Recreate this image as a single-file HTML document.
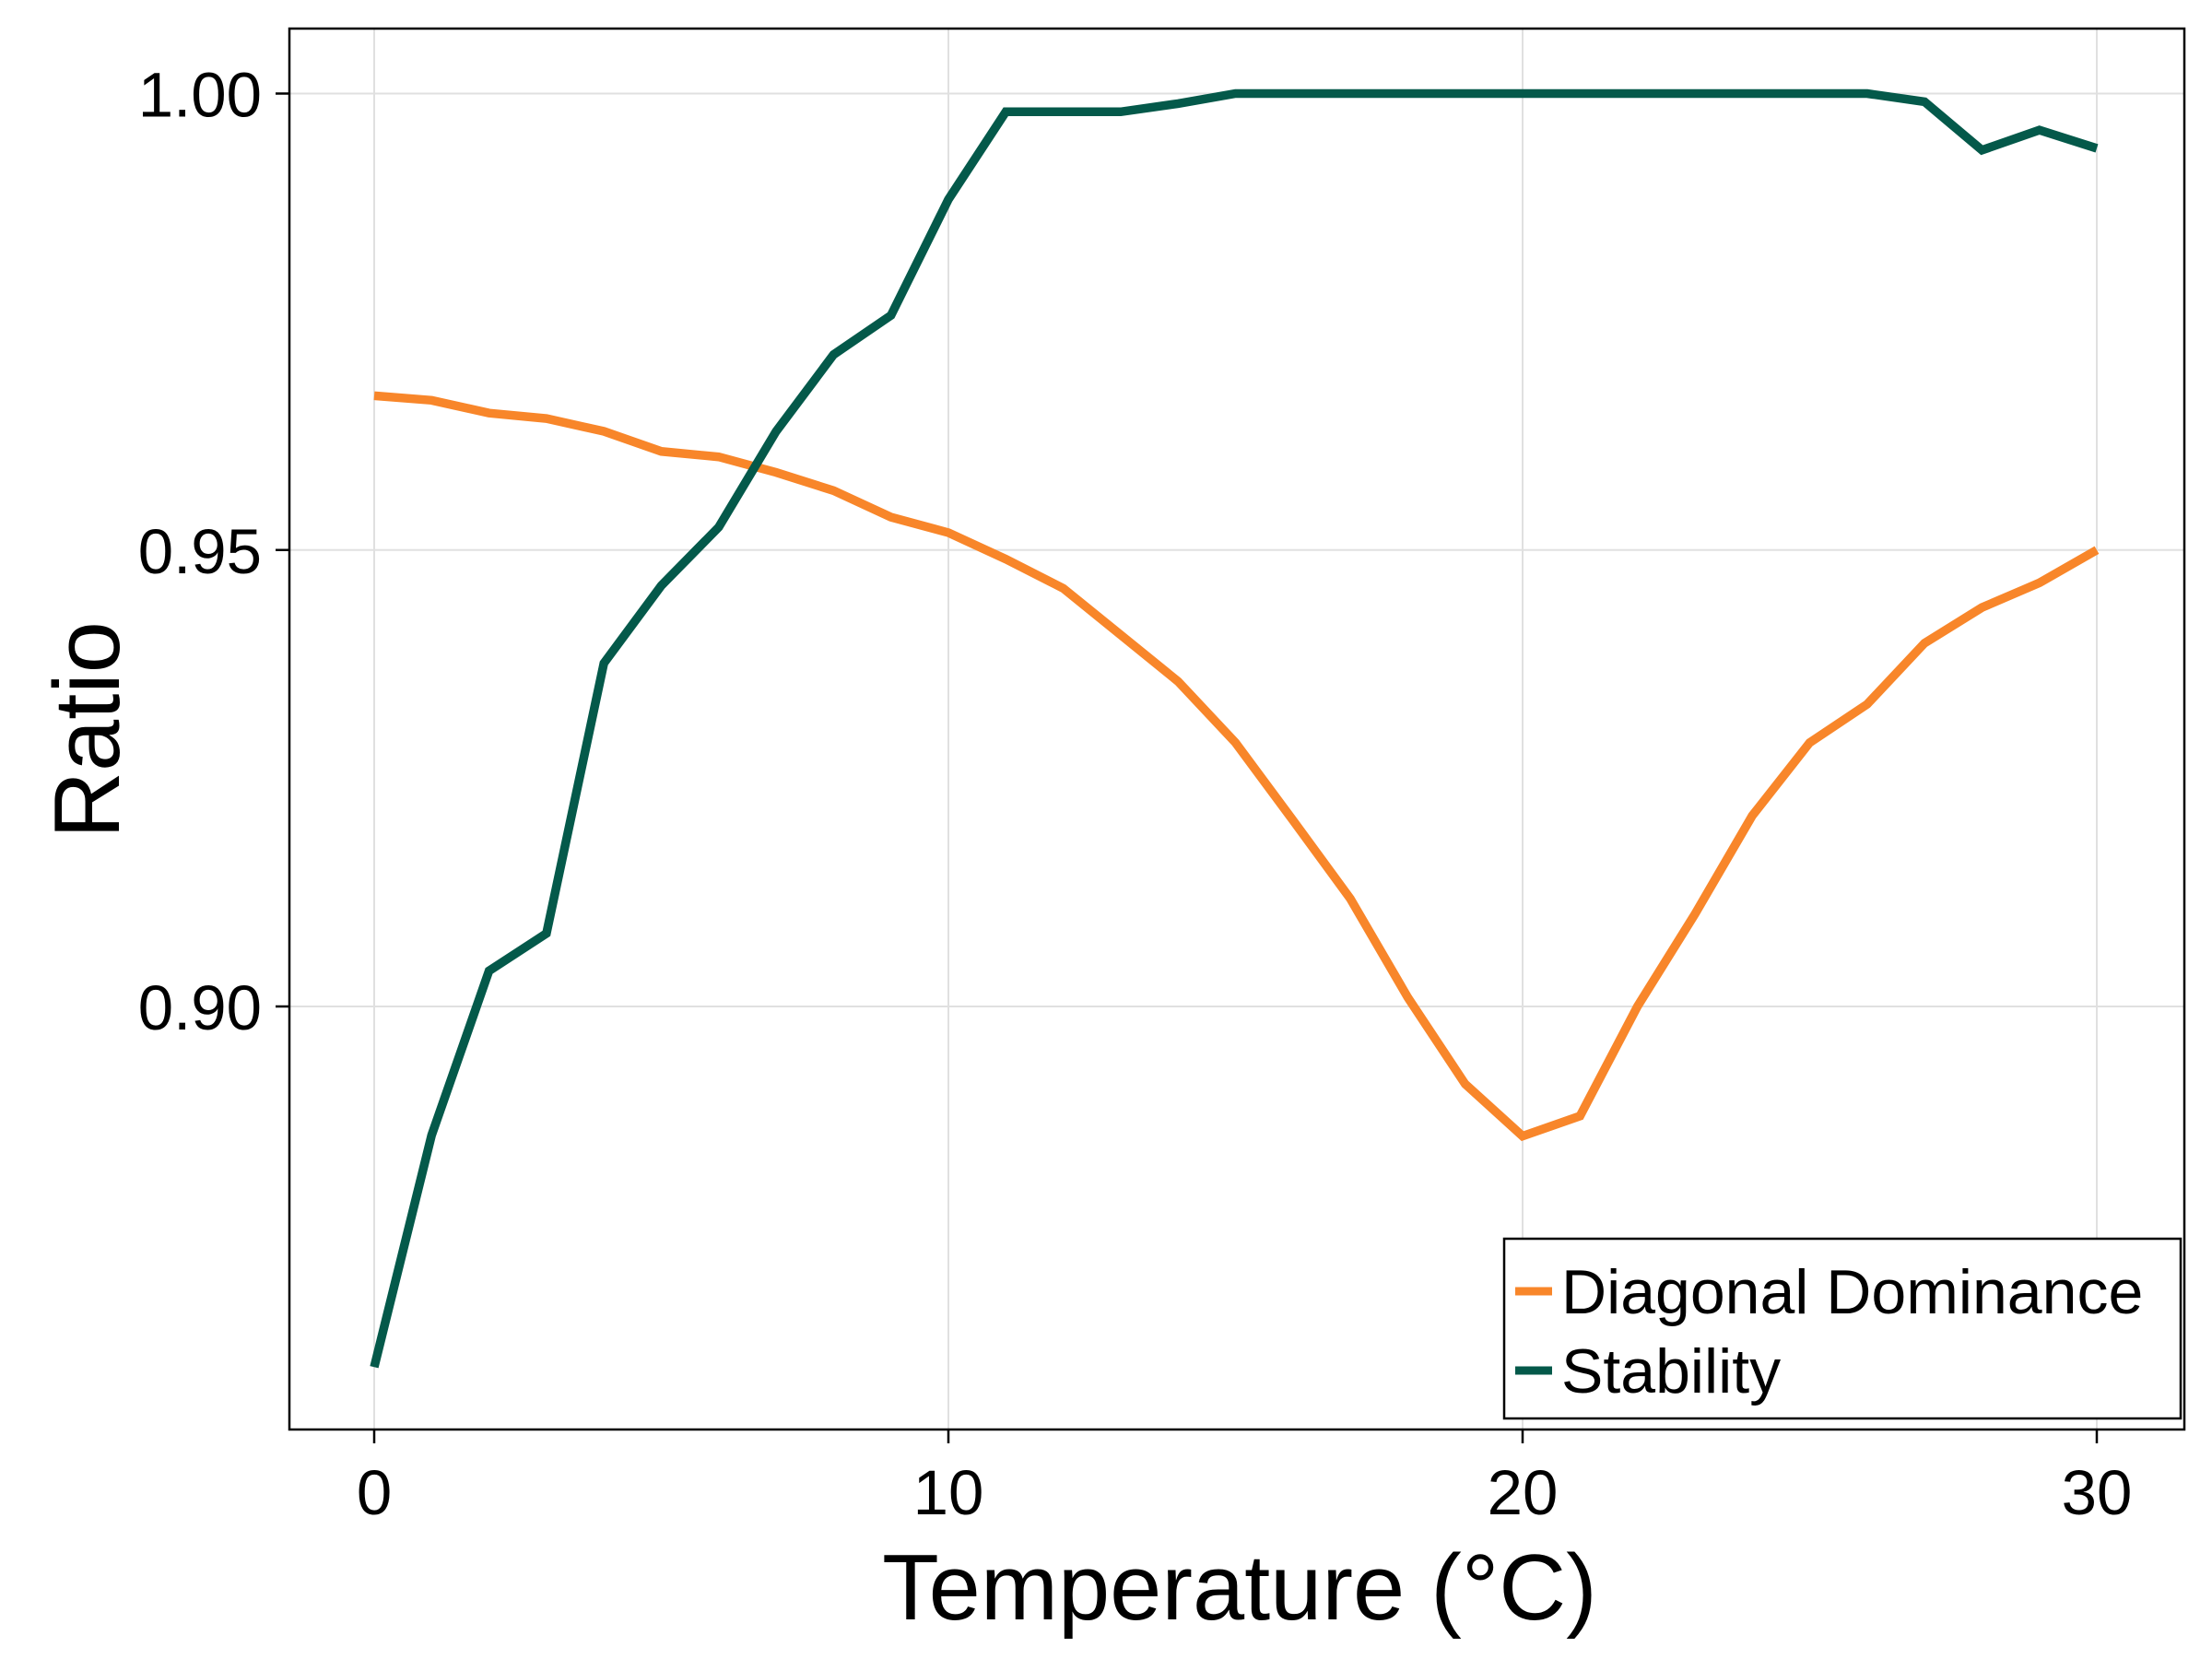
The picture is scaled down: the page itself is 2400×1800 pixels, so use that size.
<!DOCTYPE html>
<html><head><meta charset="utf-8"><style>
html,body{margin:0;padding:0;background:#fff}
svg{display:block;font-family:"Liberation Sans",sans-serif}
</style></head><body>
<svg id="chart" width="2400" height="1800" viewBox="0 0 2400 1800">
<rect x="0" y="0" width="2400" height="1800" fill="#fff"/>
<g id="grid"></g>
<g id="series"></g>
<rect x="314" y="31" width="2056" height="1520" fill="none" stroke="#000" stroke-width="2.5"/>
<g id="ticks"></g>
<text x="1345" y="1757" font-size="101" text-anchor="middle">Temperature (°C)</text>
<text transform="translate(129,792) rotate(-90)" font-size="101" text-anchor="middle">Ratio</text>
<g>
<rect x="1632" y="1344" width="734" height="195" fill="#fff" stroke="#000" stroke-width="2.5"/>
<line x1="1644" y1="1401" x2="1684" y2="1401" stroke="#f8862a" stroke-width="9"/>
<text x="1694" y="1425" font-size="68">Diagonal Dominance</text>
<line x1="1644" y1="1487" x2="1684" y2="1487" stroke="#04594a" stroke-width="9"/>
<text x="1694" y="1511" font-size="68">Stability</text>
</g>
</svg>
<script>
const temps=[0,1,2,3,4,5,6,7,8,9,10,11,12,13,14,15,16,17,18,19,20,21,22,23,24,25,26,27,28,29,30];
const diagonalDominance=[0.9669,0.9664,0.965,0.9644,0.963,0.9608,0.9602,0.9585,0.9565,0.9536,0.9519,0.949,0.9458,0.9407,0.9356,0.9289,0.9204,0.9118,0.901,0.8915,0.8858,0.888,0.9,0.9101,0.9209,0.9289,0.9331,0.9398,0.9437,0.9464,0.95];
const stability=[0.8605,0.8859,0.9039,0.908,0.9376,0.9461,0.9525,0.963,0.9714,0.9757,0.9884,0.998,0.998,0.998,0.9989,1,1,1,1,1,1,1,1,1,1,1,1,0.9991,0.9938,0.996,0.994];
const xTicks=[0,10,20,30];
const yTicks=[0.90,0.95,1.00];
const yTickLabels=["0.90","0.95","1.00"];
const NS="http://www.w3.org/2000/svg";
function xs(v){return 406+(v-0)*(2275-406)/30;}
function ys(v){return 101.5+(1-v)*(1092-101.5)/0.1;}
function mk(t,a,p){const e=document.createElementNS(NS,t);for(const k in a)e.setAttribute(k,a[k]);p.appendChild(e);return e;}
const grid=document.getElementById('grid'),ticks=document.getElementById('ticks'),series=document.getElementById('series');
xTicks.forEach(t=>{
 const g=mk('line',{x1:xs(t),x2:xs(t),y1:31,y2:1551,stroke:'#e0e0e0','stroke-width':2},grid);
 
 
 const tk=mk('line',{x1:xs(t),x2:xs(t),y1:1551,y2:1566,stroke:'#000','stroke-width':2.5},ticks);
 
 
 const l=mk('text',{x:xs(t),y:1643,'font-size':69,'text-anchor':'middle'},ticks);
 l.textContent=t;
 
 
});
yTicks.forEach((t,i)=>{
 const g=mk('line',{x1:314,x2:2370,y1:ys(t),y2:ys(t),stroke:'#e0e0e0','stroke-width':2},grid);
 
 
 const tk=mk('line',{x1:299,x2:314,y1:ys(t),y2:ys(t),stroke:'#000','stroke-width':2.5},ticks);
 
 
 const l=mk('text',{x:284,y:ys(t)+25,'font-size':69,'text-anchor':'end'},ticks);
 l.textContent=yTickLabels[i];
 
 
});
function line(vals,color,name){
 const p=mk('polyline',{points:vals.map((v,i)=>xs(temps[i])+','+ys(v)).join(' '),fill:'none',stroke:color,'stroke-width':9.5,'stroke-linejoin':'miter'},series);
 
 
}
line(diagonalDominance,'#f8862a','diagonal-dominance-line');
line(stability,'#04594a','stability-line');
</script>
</body></html>
